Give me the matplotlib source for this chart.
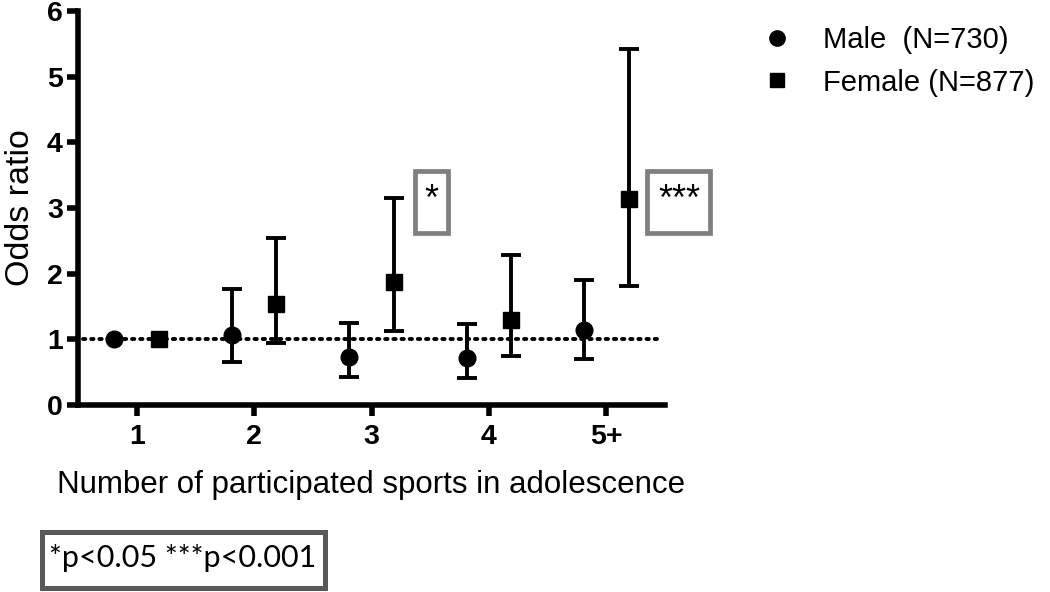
import matplotlib
matplotlib.use("Agg")
import matplotlib.pyplot as plt
from matplotlib.patches import Rectangle
from matplotlib.lines import Line2D
import numpy as np

# ---- data ----
categories = ["1", "2", "3", "4", "5+"]
male_or = [1.00, 1.07, 0.73, 0.71, 1.14]
male_lo = [1.00, 0.66, 0.43, 0.41, 0.70]
male_hi = [1.00, 1.76, 1.25, 1.23, 1.90]
female_or = [1.00, 1.54, 1.87, 1.30, 3.13]
female_lo = [1.00, 0.94, 1.13, 0.75, 1.81]
female_hi = [1.00, 2.55, 3.15, 2.28, 5.42]
male_label = "Male  (N=730)"
female_label = "Female (N=877)"
sig_female = {2: "*", 4: "***"}  # index -> marker
footnote = "*p<0.05 ***p<0.001"
yticks = [0, 1, 2, 3, 4, 5, 6]

W, H = 1050, 592
fig = plt.figure(figsize=(W / 100, H / 100), dpi=100)
def fx(px): return px / W
def fy(py): return 1 - py / H

ax = fig.add_axes([fx(78), fy(405), fx(665) - fx(78), fy(11) - fy(405)])

FONT = ["Liberation Sans", "DejaVu Sans"]
x = np.arange(1, len(categories) + 1)
off = 0.19
xm = x - off
xf = x + off

male_or_a = np.array(male_or); female_or_a = np.array(female_or)
m_err = [male_or_a - np.array(male_lo), np.array(male_hi) - male_or_a]
f_err = [female_or_a - np.array(female_lo), np.array(female_hi) - female_or_a]

ax.axhline(1, xmin=0.009, xmax=0.995, color="black", lw=2.8,
           linestyle=(0, (0.6, 1.5)), dash_capstyle="round", zorder=1)

ekw = dict(fmt="none", ecolor="black", elinewidth=2.8, capsize=7, capthick=2.8, zorder=2)
ax.errorbar(xm[1:], male_or_a[1:], yerr=[m_err[0][1:], m_err[1][1:]], **ekw)
ax.errorbar(xf[1:], female_or_a[1:], yerr=[f_err[0][1:], f_err[1][1:]], **ekw)
ax.plot(xm, male_or_a, "o", color="black", ms=12, zorder=3, linestyle="none")
ax.plot(xf, female_or_a, "s", color="black", ms=11, zorder=3, linestyle="none")

ax.set_xlim(0.5, 5.5)
ax.set_ylim(0, 6)
ax.set_xticks(x)
ax.set_xticklabels(categories)
ax.set_yticks(yticks)
for s in ["top", "right"]:
    ax.spines[s].set_visible(False)
for s in ["left", "bottom"]:
    ax.spines[s].set_linewidth(4)
    ax.spines[s].set_capstyle("projecting")
ax.tick_params(axis="both", width=4, length=8, direction="out")
ax.tick_params(axis="x", pad=6)
ax.tick_params(axis="y", pad=3)
for lab in ax.get_xticklabels() + ax.get_yticklabels():
    lab.set_fontfamily(FONT)
    lab.set_fontweight("bold")
    lab.set_fontsize(20.5)

ax.set_xlabel("Number of participated sports in adolescence", fontsize=22.5,
              family=FONT, labelpad=14)
ax.set_ylabel("Odds ratio", fontsize=24.5, family=FONT, labelpad=8)

# significance boxes
def box(x0, y0, x1, y1, color, lw):
    r = Rectangle((fx(x0), fy(y1)), fx(x1) - fx(x0), fy(y0) - fy(y1),
                  transform=fig.transFigure, fill=False, edgecolor=color, lw=lw)
    fig.add_artist(r)

box(415, 171, 448, 233, "#7f7f7f", 3.4)
fig.text(fx(431), fy(200), sig_female[2], ha="center", va="center", fontsize=26, family=FONT)
box(647, 171, 710, 233, "#7f7f7f", 3.4)
fig.text(fx(679), fy(200), sig_female[4], ha="center", va="center", fontsize=26, family=FONT)

# footnote box
box(42, 532, 325, 588, "#595959", 3.6)
fig.text(fx(183), fy(558), footnote, ha="center", va="center", fontsize=22,
         family=["Lato", "DejaVu Sans"])

# legend
handles = [Line2D([], [], marker="o", color="black", ms=11, linestyle="none"),
           Line2D([], [], marker="s", color="black", ms=9.5, linestyle="none")]
fig.legend(handles, [male_label, female_label], loc="upper left",
           bbox_to_anchor=(fx(762), fy(26)), frameon=False,
           prop={"family": FONT, "size": 21}, handlelength=1.0,
           handletextpad=1.1, labelspacing=0.5, borderaxespad=0, borderpad=0)

fig.savefig("out.png", dpi=100)
